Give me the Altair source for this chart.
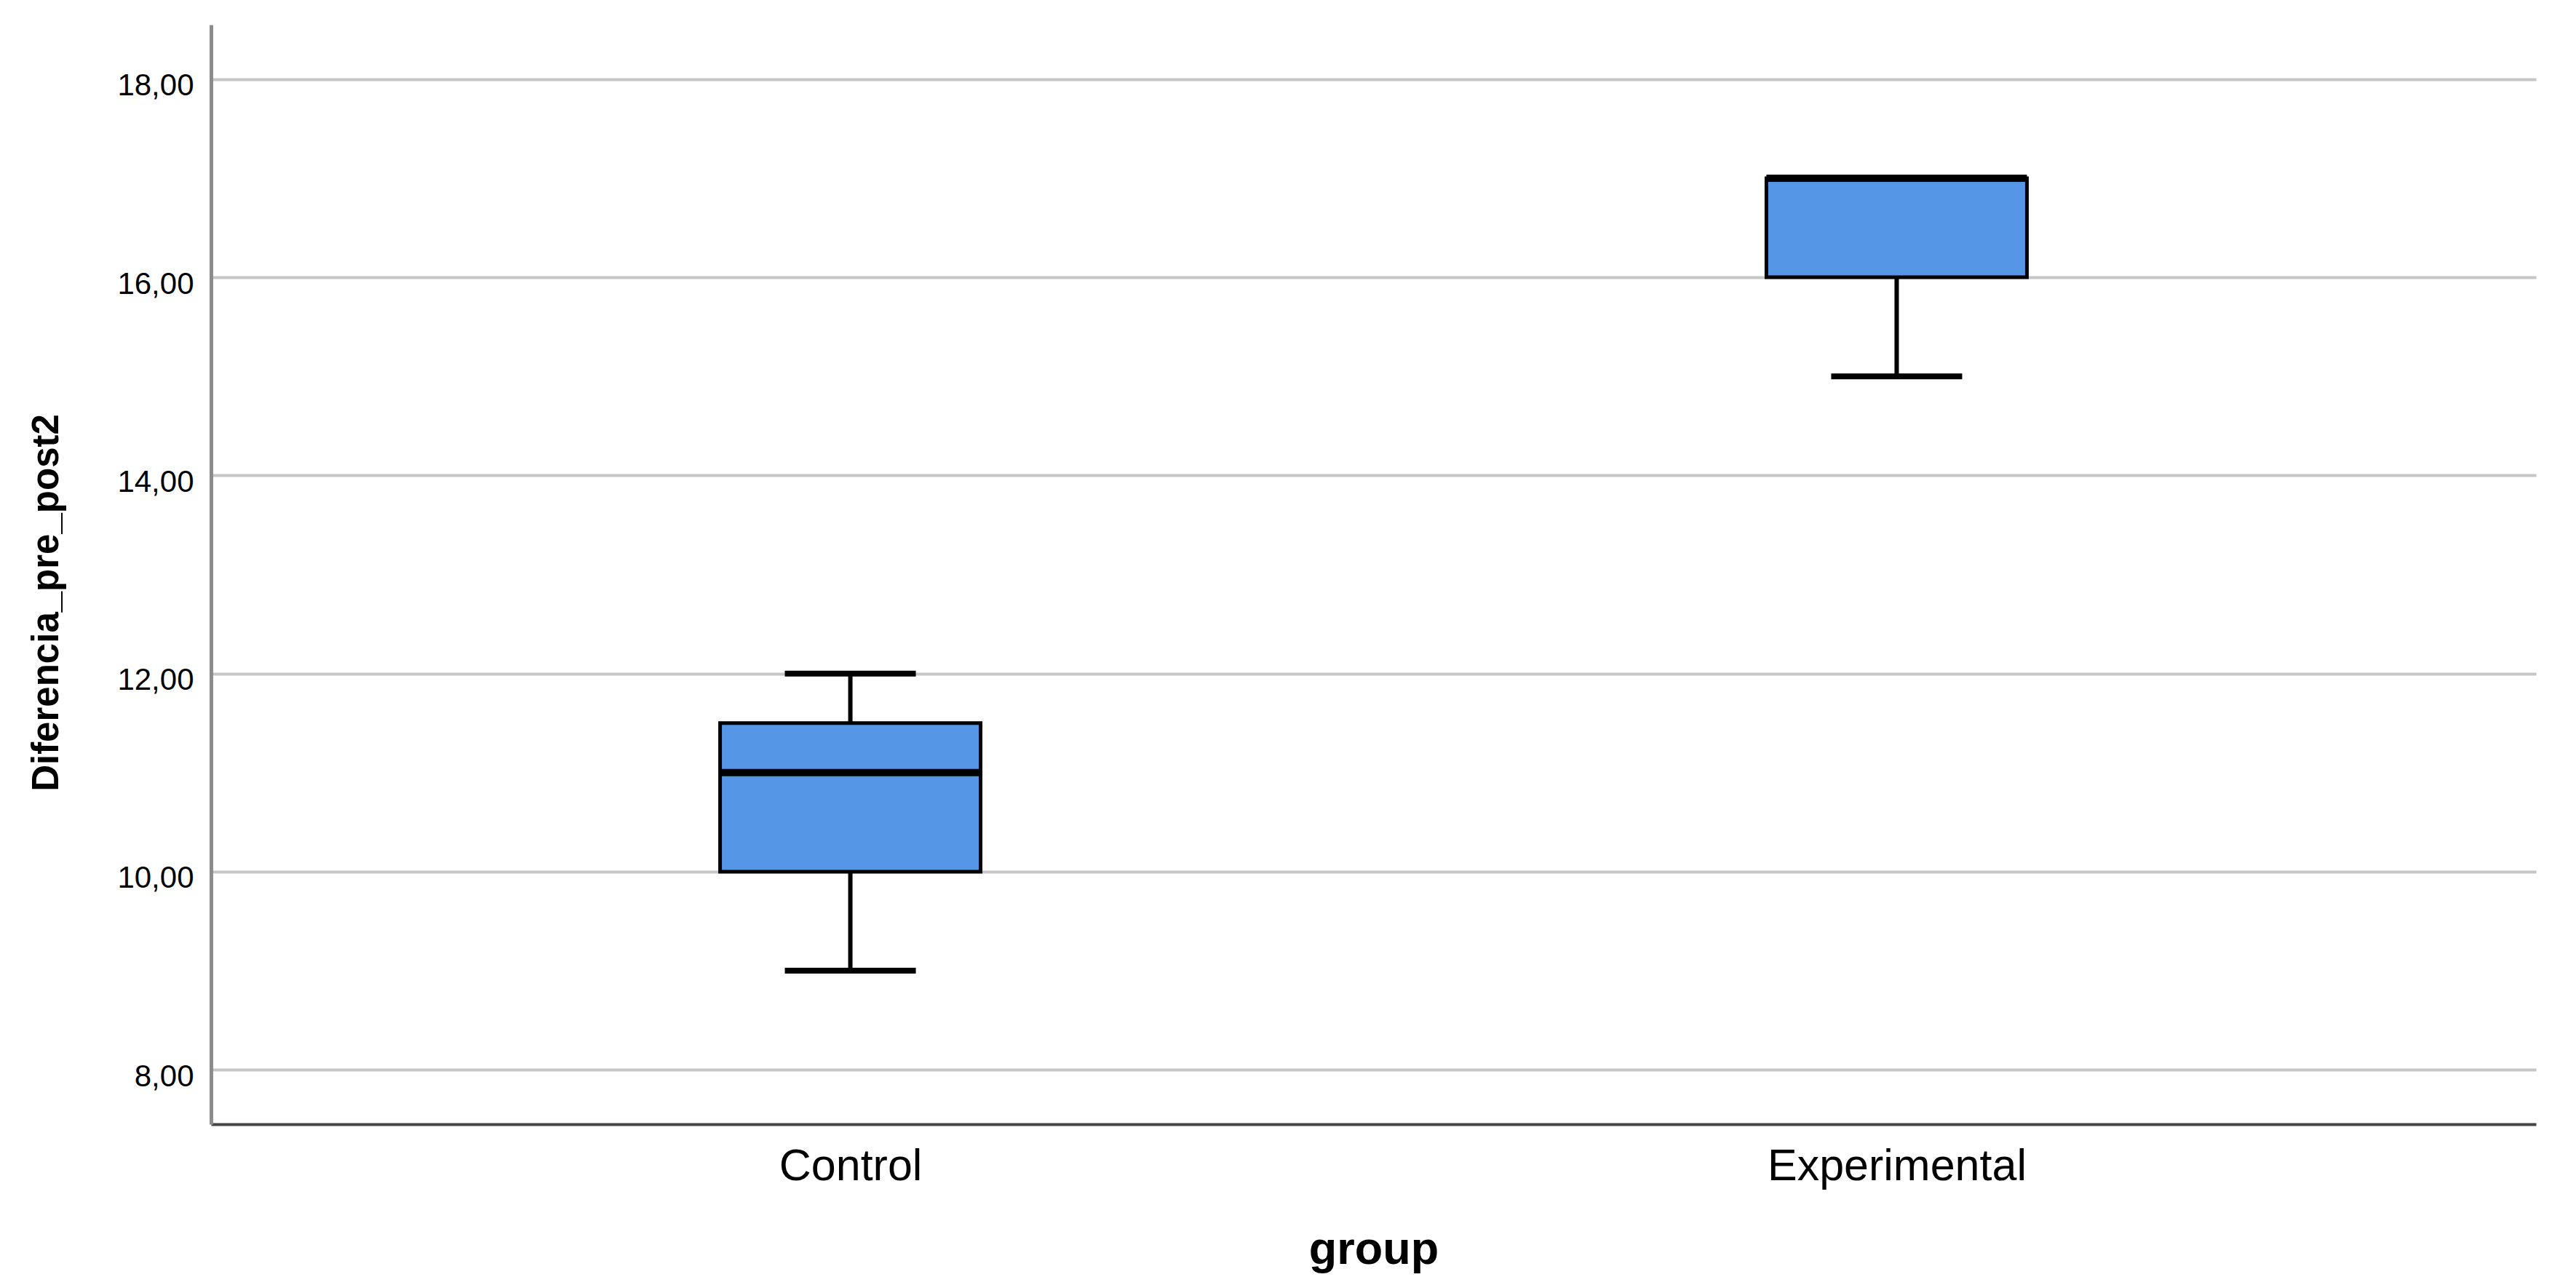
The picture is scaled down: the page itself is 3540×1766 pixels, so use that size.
import altair as alt
import pandas as pd

# ---- data ----
groups = ["Control", "Experimental"]
mins = [9.0, 15.0]
q1s = [10.0, 16.0]
medians = [11.0, 17.0]
q3s = [11.5, 17.0]
maxs = [12.0, 17.0]
y_ticks = [8, 10, 12, 14, 16, 18]

df = pd.DataFrame({
    "group": groups,
    "min": mins,
    "q1": q1s,
    "median": medians,
    "q3": q3s,
    "max": maxs,
})

W, H = 3195, 1511
FONT = "Liberation Sans"
BOX_W = 358
CAP_W = 180

x_enc = alt.X(
    "group:N",
    scale=alt.Scale(type="point", padding=0.611, domain=groups),
    axis=alt.Axis(
        title="group",
        labelAngle=0,
        labelFontSize=61,
        labelPadding=28,
        labelLimit=0,
        ticks=False,
        tickSize=0,
        grid=False,
        domainColor="#444444",
        domainWidth=4,
        titleFontSize=63,
        titleFontWeight="bold",
        titleX=W / 2,
        titleY=141,
        titleAlign="center",
        titleBaseline="top",
    ),
)

y_scale = alt.Scale(domain=[7.45, 18.55], nice=False, zero=False)
y_axis = alt.Axis(
    title="Diferencia_pre_post2",
    values=y_ticks,
    labelExpr="replace(format(datum.value, '.2f'), '.', ',')",
    labelFontSize=42,
    labelPadding=24,
    labelOffset=9,
    labelLimit=0,
    ticks=False,
    tickSize=0,
    grid=True,
    gridColor="#c6c6c6",
    gridWidth=4,
    domainColor="#8c8c8c",
    domainWidth=5,
    titleFontSize=51,
    titleFontWeight="bold",
    titleAngle=270,
    titleAlign="center",
    titleBaseline="bottom",
    titleX=-200,
    titleY=794,
)

base = alt.Chart(df).encode(x=x_enc)

whisker_low = base.mark_rule(color="black", strokeWidth=6).encode(
    y=alt.Y("min:Q", scale=y_scale, axis=y_axis), y2="q1:Q"
)
whisker_high = base.mark_rule(color="black", strokeWidth=6).encode(
    y=alt.Y("q3:Q", scale=y_scale, axis=y_axis), y2="max:Q"
)
cap_low = base.mark_tick(color="black", orient="horizontal", size=CAP_W, thickness=8, opacity=1).encode(
    y=alt.Y("min:Q", scale=y_scale, axis=y_axis)
)
cap_high = base.mark_tick(color="black", orient="horizontal", size=CAP_W, thickness=8, opacity=1).encode(
    y=alt.Y("max:Q", scale=y_scale, axis=y_axis)
)
box = base.mark_bar(size=BOX_W, fill="#5596e6", stroke="black", strokeWidth=5, opacity=1).encode(
    y=alt.Y("q1:Q", scale=y_scale, axis=y_axis), y2="q3:Q"
)
median = base.mark_tick(color="black", orient="horizontal", size=BOX_W, thickness=10, opacity=1).encode(
    y=alt.Y("median:Q", scale=y_scale, axis=y_axis)
)

chart = (
    alt.layer(whisker_low, whisker_high, cap_low, cap_high, box, median)
    .properties(
        width=W,
        height=H,
        autosize=alt.AutoSizeParams(type="none"),
        padding={"left": 282, "top": 26, "right": 40, "bottom": 213},
        background="white",
    )
    .configure_view(stroke="transparent")
    .configure_axis(
        labelFont=FONT,
        titleFont=FONT,
        labelColor="black",
        titleColor="black",
    )
)

chart.save("out.html", embed_options={"renderer": "svg", "actions": False})
